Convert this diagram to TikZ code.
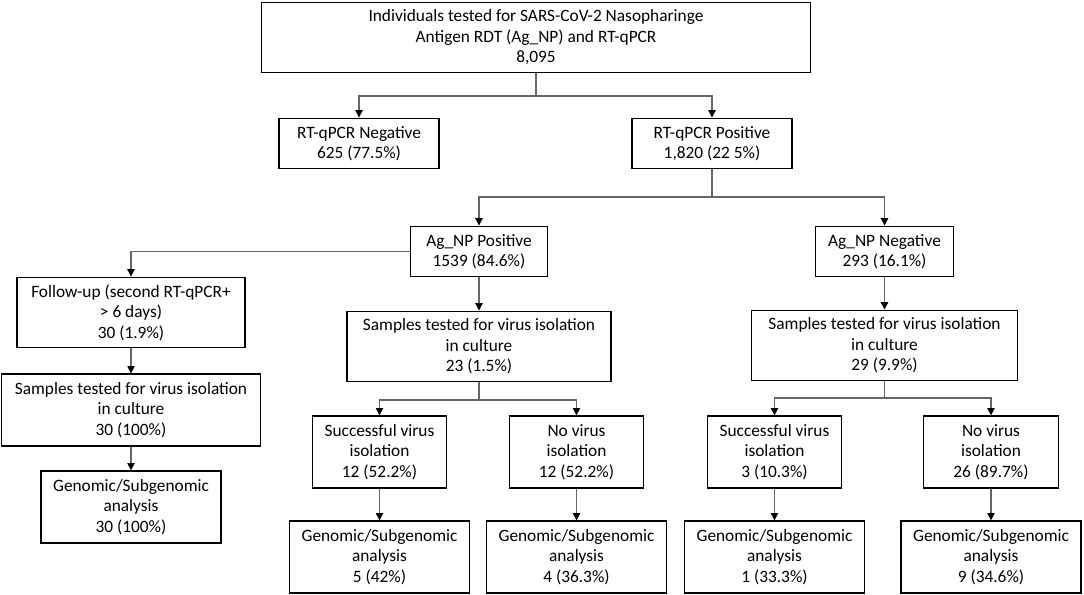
\documentclass[tikz,border=0pt]{standalone}
\usepackage{fontspec}
\setmainfont{Carlito}
\usetikzlibrary{arrows.meta}
\tikzstyle{process} = [rectangle, draw = black, line width = 0.95pt, fill = white,
	align = center, inner sep = 0pt, font = \fontsize{13}{15.4}\selectfont]
\tikzstyle{link} = [draw = black!60, line width = 0.8pt]
\tikzstyle{arrow} = [link, -{Triangle[width = 5.5pt, length = 5.5pt, color = black]}]

\begin{document}
\begin{tikzpicture}[x = 0.75pt, y = -0.75pt]
\useasboundingbox (0,0) rectangle (1084,595);

\node (top) [process, minimum width = 412pt, minimum height = 53pt] at (536,37.5)
	{Individuals tested for SARS-CoV-2 Nasopharinge\\Antigen RDT (Ag\_NP) and RT-qPCR\\8,095};

\node (neg) [process, minimum width = 120pt, minimum height = 38pt] at (359,143.5)
	{RT-qPCR Negative\\625 (77.5\%)};
\node (pos) [process, minimum width = 120pt, minimum height = 38pt] at (712,143.5)
	{RT-qPCR Positive\\1,820 (22 5\%)};

\node (agp) [process, minimum width = 103pt, minimum height = 38pt] at (479,251.5)
	{Ag\_NP Positive\\1539 (84.6\%)};
\node (agn) [process, minimum width = 103pt, minimum height = 38pt] at (884.5,251.5)
	{Ag\_NP Negative\\293 (16.1\%)};

\node (fu) [process, minimum width = 171pt, minimum height = 53pt] at (131,312.5)
	{Follow-up (second RT-qPCR+\\> 6 days)\\30 (1.9\%)};
\node (sl) [process, minimum width = 194pt, minimum height = 54pt] at (131,410)
	{Samples tested for virus isolation\\in culture\\30 (100\%)};
\node (gl) [process, minimum width = 135pt, minimum height = 54pt] at (131,507)
	{Genomic/Subgenomic\\analysis\\30 (100\%)};

\node (sm) [process, minimum width = 198pt, minimum height = 53pt] at (479,346.5)
	{Samples tested for virus isolation\\in culture\\23 (1.5\%)};
\node (sr) [process, minimum width = 199.5pt, minimum height = 53pt] at (884.5,345.5)
	{Samples tested for virus isolation\\in culture\\29 (9.9\%)};

\node (s1) [process, minimum width = 101pt, minimum height = 54pt] at (379.5,452)
	{Successful virus\\isolation\\12 (52.2\%)};
\node (n1) [process, minimum width = 101pt, minimum height = 54pt] at (576.5,452)
	{No virus\\isolation\\12 (52.2\%)};
\node (s2) [process, minimum width = 101pt, minimum height = 54pt] at (774.5,452)
	{Successful virus\\isolation\\3 (10.3\%)};
\node (n2) [process, minimum width = 101pt, minimum height = 54pt] at (991,452)
	{No virus\\isolation\\26 (89.7\%)};

\node (g1) [process, minimum width = 135pt, minimum height = 54pt] at (379.5,557)
	{Genomic/Subgenomic\\analysis\\5 (42\%)};
\node (g2) [process, minimum width = 135pt, minimum height = 54pt] at (576.5,557)
	{Genomic/Subgenomic\\analysis\\4 (36.3\%)};
\node (g3) [process, minimum width = 135pt, minimum height = 54pt] at (774.5,557)
	{Genomic/Subgenomic\\analysis\\1 (33.3\%)};
\node (g4) [process, minimum width = 135pt, minimum height = 54pt] at (991,557)
	{Genomic/Subgenomic\\analysis\\9 (34.6\%)};

\coordinate (T) at (536,96);
\coordinate (P) at (712,197);
\coordinate (M) at (479,400);
\coordinate (R) at (884.5,398);

\draw [link] (top) -- (T);
\draw [arrow] (T) -| (neg);
\draw [arrow] (T) -| (pos);

\draw [link] (pos) -- (P);
\draw [arrow] (P) -| (agp);
\draw [arrow] (P) -| (agn);

\draw [arrow] (agp.west) -| (fu);
\draw [arrow] (fu) -- (sl);
\draw [arrow] (sl) -- (gl);

\draw [arrow] (agp) -- (sm);
\draw [link] (sm) -- (M);
\draw [arrow] (M) -| (s1);
\draw [arrow] (M) -| (n1);
\draw [arrow] (s1) -- (g1);
\draw [arrow] (n1) -- (g2);

\draw [arrow] (agn) -- (sr);
\draw [link] (sr) -- (R);
\draw [arrow] (R) -| (s2);
\draw [arrow] (R) -| (n2);
\draw [arrow] (s2) -- (g3);
\draw [arrow] (n2) -- (g4);
\end{tikzpicture}
\end{document}
